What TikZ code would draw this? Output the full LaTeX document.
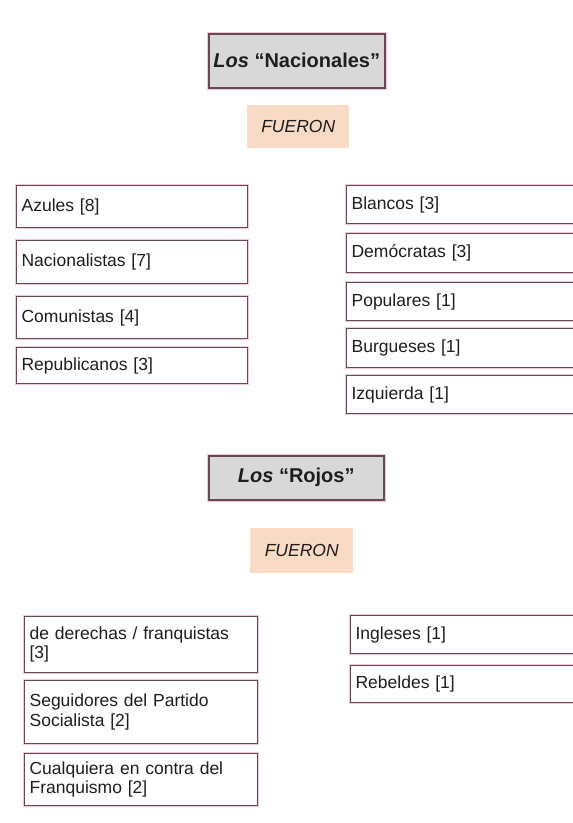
\documentclass[tikz,border=0pt]{standalone}
\usepackage{fontspec}
\setmainfont{Liberation Sans}
\definecolor{boxedge}{RGB}{105,72,86}
\definecolor{halo}{RGB}{240,200,210}
\definecolor{titlegray}{RGB}{216,216,216}
\definecolor{peach}{RGB}{249,218,196}
\definecolor{ink}{RGB}{30,30,30}

\begin{document}
\begin{tikzpicture}[x=1pt, y=-1pt,
    catbox/.style={draw=boxedge, line width=1.2pt, preaction={draw=halo, line width=3.5pt},
      fill=white, anchor=north west, inner xsep=5pt, inner ysep=2pt, align=left,
      text=ink, font=\fontsize{17.5}{19.5}\selectfont},
    titlebox/.style={draw=boxedge, line width=1.5pt, preaction={draw=halo, line width=4pt},
      fill=titlegray, anchor=north west, inner sep=0pt, text=ink,
      font=\fontsize{20}{22}\selectfont\bfseries},
    verbbox/.style={fill=peach, anchor=north west, inner sep=0pt, text=ink,
      font=\fontsize{17.5}{20}\selectfont\itshape}]
    \useasboundingbox[fill=white] (0,0) rectangle (573,823);

    % primera parte
    \node[titlebox, minimum width=176, minimum height=54] (nac) at (208,33) {\textit{Los} “Nacionales”};
    \node[verbbox, minimum width=102, minimum height=43] (fue1) at (247,105) {FUERON};

    \node[catbox, text width=221, minimum height=42] (azu) at (16,185) {Azules [8]};
    \node[catbox, text width=221, minimum height=43] (nacio) at (16,240) {Nacionalistas [7]};
    \node[catbox, text width=221, minimum height=42] (comu) at (16,296) {Comunistas [4]};
    \node[catbox, text width=221, minimum height=36] (repu) at (16,347) {Republicanos [3]};

    \node[catbox, text width=226, minimum height=38] (blan) at (346,185) {Blancos [3]};
    \node[catbox, text width=226, minimum height=39] (demo) at (346,233) {Demócratas [3]};
    \node[catbox, text width=226, minimum height=38] (popu) at (346,282) {Populares [1]};
    \node[catbox, text width=226, minimum height=39] (burg) at (346,328) {Burgueses [1]};
    \node[catbox, text width=226, minimum height=38] (izq) at (346,375) {Izquierda [1]};

    % segunda parte
    \node[titlebox, minimum width=175, minimum height=44] (rojos) at (208,455) {\textit{Los} “Rojos”};
    \node[verbbox, minimum width=103, minimum height=45] (fue2) at (250,528) {FUERON};

    \node[catbox, text width=223, minimum height=56] (dere) at (24,616) {de derechas / franquistas\\{}[3]};
    \node[catbox, text width=223, minimum height=63] (segu) at (24,680) {Seguidores del Partido\\Socialista [2]};
    \node[catbox, text width=223, minimum height=52] (cual) at (24,753) {Cualquiera en contra del\\Franquismo [2]};

    \node[catbox, text width=222, minimum height=38] (ingl) at (350,615) {Ingleses [1]};
    \node[catbox, text width=222, minimum height=37] (rebe) at (350,665) {Rebeldes [1]};
\end{tikzpicture}
\end{document}
